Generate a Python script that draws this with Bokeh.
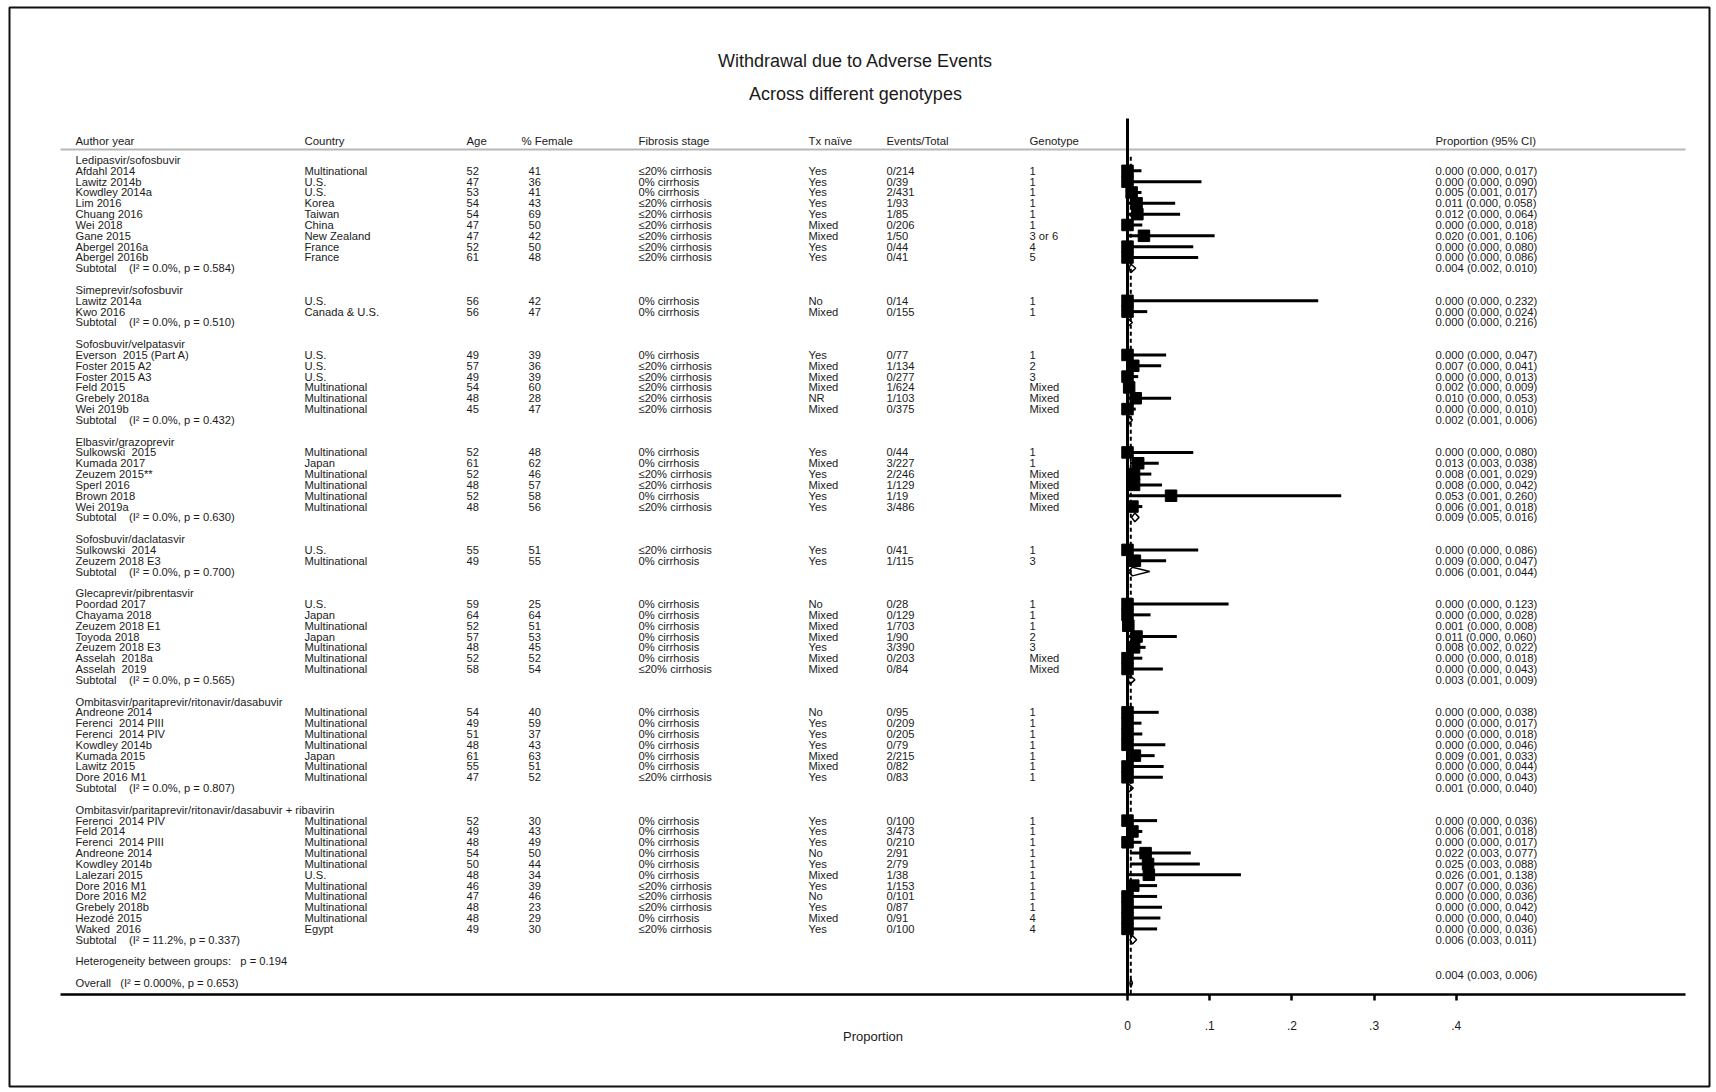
from bokeh.plotting import figure
from bokeh.models import Range1d, FixedTicker, CustomJSTickFormatter, BoxAnnotation
from bokeh.core.properties import value
from bokeh.embed import file_html
from bokeh.resources import INLINE

# ---------------- data ----------------
title = "Withdrawal due to Adverse Events"
subtitle = "Across different genotypes"
headers = ["Author year", "Country", "Age", "% Female", "Fibrosis stage", "Tx na\u00efve",
           "Events/Total", "Genotype", "Proportion (95% CI)"]

groups = ["Ledipasvir/sofosbuvir", "Simeprevir/sofosbuvir", "Sofosbuvir/velpatasvir",
          "Elbasvir/grazoprevir", "Sofosbuvir/daclatasvir", "Glecaprevir/pibrentasvir",
          "Ombitasvir/paritaprevir/ritonavir/dasabuvir",
          "Ombitasvir/paritaprevir/ritonavir/dasabuvir + ribavirin"]
group_sizes = [9, 2, 6, 6, 2, 7, 7, 11]
sub_i2 = ["0.0%", "0.0%", "0.0%", "0.0%", "0.0%", "0.0%", "0.0%", "11.2%"]
sub_p = ["0.584", "0.510", "0.432", "0.630", "0.700", "0.565", "0.807", "0.337"]
sub_est = [0.004, 0.000, 0.002, 0.009, 0.006, 0.003, 0.001, 0.006]
sub_lo = [0.002, 0.000, 0.001, 0.005, 0.001, 0.001, 0.000, 0.003]
sub_hi = [0.010, 0.216, 0.006, 0.016, 0.044, 0.009, 0.040, 0.011]
# right tip of each subtotal diamond as drawn in the picture
diamond_hi = [0.010, 0.006, 0.006, 0.014, 0.027, 0.009, 0.007, 0.011]

authors = ["Afdahl 2014", "Lawitz 2014b", "Kowdley 2014a", "Lim 2016", "Chuang 2016", "Wei 2018",
           "Gane 2015", "Abergel 2016a", "Abergel 2016b",
           "Lawitz 2014a", "Kwo 2016",
           "Everson  2015 (Part A)", "Foster 2015 A2", "Foster 2015 A3", "Feld 2015", "Grebely 2018a", "Wei 2019b",
           "Sulkowski  2015", "Kumada 2017", "Zeuzem 2015**", "Sperl 2016", "Brown 2018", "Wei 2019a",
           "Sulkowski  2014", "Zeuzem 2018 E3",
           "Poordad 2017", "Chayama 2018", "Zeuzem 2018 E1", "Toyoda 2018", "Zeuzem 2018 E3",
           "Asselah  2018a", "Asselah  2019",
           "Andreone 2014", "Ferenci  2014 PIII", "Ferenci  2014 PIV", "Kowdley 2014b", "Kumada 2015",
           "Lawitz 2015", "Dore 2016 M1",
           "Ferenci  2014 PIV", "Feld 2014", "Ferenci  2014 PIII", "Andreone 2014", "Kowdley 2014b",
           "Lalezari 2015", "Dore 2016 M1", "Dore 2016 M2", "Grebely 2018b", "Hezod\u00e9 2015", "Waked  2016"]
countries = ["Multinational", "U.S.", "U.S.", "Korea", "Taiwan", "China", "New Zealand", "France", "France",
             "U.S.", "Canada & U.S.",
             "U.S.", "U.S.", "U.S.", "Multinational", "Multinational", "Multinational",
             "Multinational", "Japan", "Multinational", "Multinational", "Multinational", "Multinational",
             "U.S.", "Multinational",
             "U.S.", "Japan", "Multinational", "Japan", "Multinational", "Multinational", "Multinational",
             "Multinational", "Multinational", "Multinational", "Multinational", "Japan", "Multinational",
             "Multinational",
             "Multinational", "Multinational", "Multinational", "Multinational", "Multinational", "U.S.",
             "Multinational", "Multinational", "Multinational", "Multinational", "Egypt"]
ages = [52, 47, 53, 54, 54, 47, 47, 52, 61,
        56, 56,
        49, 57, 49, 54, 48, 45,
        52, 61, 52, 48, 52, 48,
        55, 49,
        59, 64, 52, 57, 48, 52, 58,
        54, 49, 51, 48, 61, 55, 47,
        52, 49, 48, 54, 50, 48, 46, 47, 48, 48, 49]
female = [41, 36, 41, 43, 69, 50, 42, 50, 48,
          42, 47,
          39, 36, 39, 60, 28, 47,
          48, 62, 46, 57, 58, 56,
          51, 55,
          25, 64, 51, 53, 45, 52, 54,
          40, 59, 37, 43, 63, 51, 52,
          30, 43, 49, 50, 44, 34, 39, 46, 23, 29, 30]
L20 = "\u226420% cirrhosis"
Z0 = "0% cirrhosis"
fibrosis = [L20, Z0, Z0, L20, L20, L20, L20, L20, L20,
            Z0, Z0,
            Z0, L20, L20, L20, L20, L20,
            Z0, Z0, L20, L20, Z0, L20,
            L20, Z0,
            Z0, Z0, Z0, Z0, Z0, Z0, L20,
            Z0, Z0, Z0, Z0, Z0, Z0, L20,
            Z0, Z0, Z0, Z0, Z0, Z0, L20, L20, L20, Z0, L20]
tx_naive = ["Yes", "Yes", "Yes", "Yes", "Yes", "Mixed", "Mixed", "Yes", "Yes",
            "No", "Mixed",
            "Yes", "Mixed", "Mixed", "Mixed", "NR", "Mixed",
            "Yes", "Mixed", "Yes", "Mixed", "Yes", "Yes",
            "Yes", "Yes",
            "No", "Mixed", "Mixed", "Mixed", "Yes", "Mixed", "Mixed",
            "No", "Yes", "Yes", "Yes", "Mixed", "Mixed", "Yes",
            "Yes", "Yes", "Yes", "No", "Yes", "Mixed", "Yes", "No", "Yes", "Mixed", "Yes"]
events = ["0/214", "0/39", "2/431", "1/93", "1/85", "0/206", "1/50", "0/44", "0/41",
          "0/14", "0/155",
          "0/77", "1/134", "0/277", "1/624", "1/103", "0/375",
          "0/44", "3/227", "2/246", "1/129", "1/19", "3/486",
          "0/41", "1/115",
          "0/28", "0/129", "1/703", "1/90", "3/390", "0/203", "0/84",
          "0/95", "0/209", "0/205", "0/79", "2/215", "0/82", "0/83",
          "0/100", "3/473", "0/210", "2/91", "2/79", "1/38", "1/153", "0/101", "0/87", "0/91", "0/100"]
genotype = ["1", "1", "1", "1", "1", "1", "3 or 6", "4", "5",
            "1", "1",
            "1", "2", "3", "Mixed", "Mixed", "Mixed",
            "1", "1", "Mixed", "Mixed", "Mixed", "Mixed",
            "1", "3",
            "1", "1", "1", "2", "3", "Mixed", "Mixed",
            "1", "1", "1", "1", "1", "1", "1",
            "1", "1", "1", "1", "1", "1", "1", "1", "1", "4", "4"]
est = [0.000, 0.000, 0.005, 0.011, 0.012, 0.000, 0.020, 0.000, 0.000,
       0.000, 0.000,
       0.000, 0.007, 0.000, 0.002, 0.010, 0.000,
       0.000, 0.013, 0.008, 0.008, 0.053, 0.006,
       0.000, 0.009,
       0.000, 0.000, 0.001, 0.011, 0.008, 0.000, 0.000,
       0.000, 0.000, 0.000, 0.000, 0.009, 0.000, 0.000,
       0.000, 0.006, 0.000, 0.022, 0.025, 0.026, 0.007, 0.000, 0.000, 0.000, 0.000]
lo = [0.000, 0.000, 0.001, 0.000, 0.000, 0.000, 0.001, 0.000, 0.000,
      0.000, 0.000,
      0.000, 0.000, 0.000, 0.000, 0.000, 0.000,
      0.000, 0.003, 0.001, 0.000, 0.001, 0.001,
      0.000, 0.000,
      0.000, 0.000, 0.000, 0.000, 0.002, 0.000, 0.000,
      0.000, 0.000, 0.000, 0.000, 0.001, 0.000, 0.000,
      0.000, 0.001, 0.000, 0.003, 0.003, 0.001, 0.000, 0.000, 0.000, 0.000, 0.000]
hi = [0.017, 0.090, 0.017, 0.058, 0.064, 0.018, 0.106, 0.080, 0.086,
      0.232, 0.024,
      0.047, 0.041, 0.013, 0.009, 0.053, 0.010,
      0.080, 0.038, 0.029, 0.042, 0.260, 0.018,
      0.086, 0.047,
      0.123, 0.028, 0.008, 0.060, 0.022, 0.018, 0.043,
      0.038, 0.017, 0.018, 0.046, 0.033, 0.044, 0.043,
      0.036, 0.018, 0.017, 0.077, 0.088, 0.138, 0.036, 0.036, 0.042, 0.040, 0.036]

het_text = "Heterogeneity between groups:   p = 0.194"
overall_text = "Overall   (I\u00b2 = 0.000%, p = 0.653)"
overall_est, overall_lo, overall_hi = 0.004, 0.003, 0.006
x_ticks = [0, 0.1, 0.2, 0.3, 0.4]

# ---------------- layout helpers ----------------
W, H = 1712, 1088
ROW0, PITCH = 159.5, 10.83          # screen y of row 0, row pitch (px)
X0, XSCALE = 1127, 822              # screen x of proportion 0, px per unit

def row_of(sy):
    return (sy - ROW0) / PITCH

def keep_spaces(s):
    return s.replace("  ", "\u00a0\u00a0")

study_rows, label_rows, sub_rows = [], [], []
r = 0
for n in group_sizes:
    label_rows.append(r)
    r += 1
    study_rows.extend(range(r, r + n))
    r += n
    sub_rows.append(r)
    r += 2
het_row = r
overall_row = r + 2

FONT = value("Liberation Sans")
TXT = "#1a1a1a"
COL = dict(author=75, country=304, age=466, female=528, female_h=521, fib=638, tx=808,
           ev=886, geno=1029, prop=1435)

p = figure(width=W, height=H, output_backend="svg", toolbar_location=None,
           x_range=Range1d(-X0 / XSCALE, (W - X0) / XSCALE),
           y_range=Range1d(row_of(H), row_of(0)),
           y_axis_location=None, min_border=0, min_border_left=0, min_border_right=0,
           min_border_top=0, min_border_bottom=0)
p.extra_x_ranges = {"px": Range1d(0, W)}
p.extra_y_ranges = {"py": Range1d(H, 0)}
p.xgrid.visible = False
p.ygrid.visible = False
p.outline_line_color = None
p.background_fill_color = "white"
p.border_fill_color = "white"

def txt(xs, ys, texts, size="11.2px", align="left", yname="default"):
    p.text(x=xs, y=ys, text=[keep_spaces(t) for t in texts], x_range_name="px", y_range_name=yname,
           text_font=FONT, text_font_size=size, text_color=TXT, text_baseline="middle",
           text_align=align)

# outer frame of the graph
p.add_layout(BoxAnnotation(left=9, right=1709, top=7, bottom=H - 2, x_range_name="px", y_range_name="py",
                           fill_alpha=0, line_color="#111111", line_alpha=1.0, line_width=2))

# titles
txt([855], [60], [title], size="18px", align="center", yname="py")
txt([855], [93], [subtitle], size="18px", align="center", yname="py")

# header
hx = [COL["author"], COL["country"], COL["age"], COL["female_h"], COL["fib"], COL["tx"],
      COL["ev"], COL["geno"], COL["prop"]]
txt(hx, [140] * len(hx), headers, size="11.4px", yname="py")
p.segment(x0=[60], x1=[1685], y0=[149], y1=[149], x_range_name="px", y_range_name="py",
          line_color="#b8b8b8", line_width=2)

# group labels / subtotals
txt([COL["author"]] * len(groups), label_rows, groups)
sub_texts = [f"Subtotal    (I\u00b2 = {a}, p = {b})" for a, b in zip(sub_i2, sub_p)]
txt([COL["author"]] * len(groups), sub_rows, sub_texts)
txt([COL["prop"]] * len(groups), sub_rows,
    [f"{e:.3f} ({l:.3f}, {h:.3f})" for e, l, h in zip(sub_est, sub_lo, sub_hi)], size="11.3px")
txt([COL["author"]], [het_row], [het_text])
txt([COL["author"]], [overall_row], [overall_text])
txt([COL["prop"]], [overall_row - 0.75], [f"{overall_est:.3f} ({overall_lo:.3f}, {overall_hi:.3f})"],
    size="11.3px")

# study columns
n = len(authors)
txt([COL["author"]] * n, study_rows, authors)
txt([COL["country"]] * n, study_rows, countries)
txt([COL["age"]] * n, study_rows, [str(a) for a in ages])
txt([COL["female"]] * n, study_rows, [str(f) for f in female])
txt([COL["fib"]] * n, study_rows, fibrosis)
txt([COL["tx"]] * n, study_rows, tx_naive)
txt([COL["ev"]] * n, study_rows, events)
txt([COL["geno"]] * n, study_rows, genotype)
txt([COL["prop"]] * n, study_rows, [f"{e:.3f} ({l:.3f}, {h:.3f})" for e, l, h in zip(est, lo, hi)],
    size="11.3px")

AXIS_ROW = row_of(994)

# forest: reference line at 0 and dashed overall line
p.segment(x0=[0], x1=[0], y0=[row_of(118)], y1=[AXIS_ROW], line_color="black", line_width=3)
p.segment(x0=[overall_est], x1=[overall_est], y0=[-0.3], y1=[AXIS_ROW], line_color="black",
          line_width=2, line_dash="4 3")

p.segment(x0=lo, x1=hi, y0=study_rows, y1=study_rows, line_color="black", line_width=3)
p.scatter(x=est, y=study_rows, marker="square", size=11.5, color="black")

h = 0.4
dxs = [[l, e, dh, e] for l, e, dh in zip(sub_lo, sub_est, diamond_hi)]
dys = [[rr, rr - h, rr, rr + h] for rr in sub_rows]
dxs.append([overall_lo, overall_est, overall_hi, overall_est])
dys.append([overall_row, overall_row - h, overall_row, overall_row + h])
p.patches(xs=dxs, ys=dys, fill_color=None, line_color="black", line_width=1.5)

# axis (drawn inside the canvas at the bottom rule of the table)
ax = p.xaxis[0]
ax.fixed_location = AXIS_ROW
ax.bounds = ((60 - X0) / XSCALE, (1685 - X0) / XSCALE)
ax.ticker = FixedTicker(ticks=x_ticks)
ax.formatter = CustomJSTickFormatter(code="return tick == 0 ? '0' : tick.toFixed(1).replace(/^0/, '');")
ax.axis_line_width = 2.5
ax.axis_line_color = "black"
ax.major_tick_line_width = 2.5
ax.major_tick_line_color = "black"
ax.major_tick_out = 6
ax.major_tick_in = 0
ax.minor_tick_line_color = None
ax.major_label_text_font = "Liberation Sans"
ax.major_label_text_font_size = "12px"
ax.major_label_text_color = TXT
ax.major_label_standoff = 20
ax.axis_label = "Proportion"
ax.axis_label_text_font = "Liberation Sans"
ax.axis_label_text_font_size = "13px"
ax.axis_label_text_font_style = "normal"
ax.axis_label_text_color = TXT
ax.axis_label_standoff = -4

open("out.html", "w").write(file_html(p, INLINE))
